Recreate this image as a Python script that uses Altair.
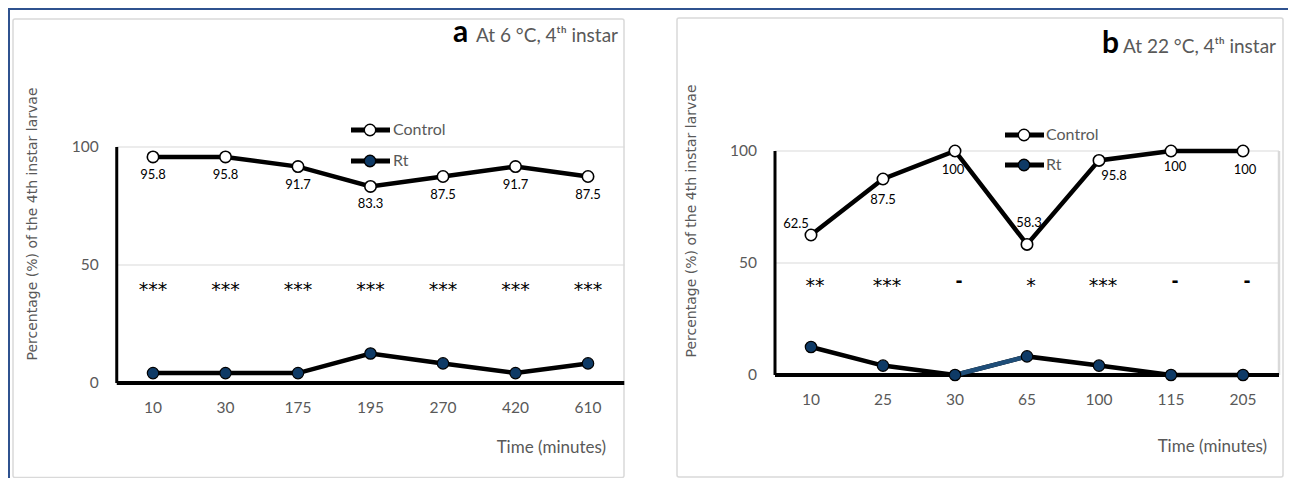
import altair as alt
import pandas as pd

# ---------------- data ----------------
a_times = ["10", "30", "175", "195", "270", "420", "610"]
a_control = [95.8, 95.8, 91.7, 83.3, 87.5, 91.7, 87.5]
a_rt = [4.2, 4.2, 4.2, 12.5, 8.3, 4.2, 8.3]
a_sig = ["***", "***", "***", "***", "***", "***", "***"]

b_times = ["10", "25", "30", "65", "100", "115", "205"]
b_control = [62.5, 87.5, 100, 58.3, 95.8, 100, 100]
b_rt = [12.5, 4.2, 0, 8.3, 4.2, 0, 0]
b_sig = ["**", "***", "-", "*", "***", "-", "-"]

y_ticks = [0, 50, 100]
grid_vals = [50, 100]
sig_level = 37

series_names = ["Control", "Rt"]
y_title = "Percentage (%) of the 4th instar larvae"
x_title = "Time (minutes)"

FONT = "Lato"
GRAY = "#595959"
NAVY = "#0e3a66"
LINE_W = 4.5

W, H = 1280, 470


def panel(times, control, rt, sig, xdom, ydom, lab_off, sig_dx, blue_seg=None, right_edge=False):
    n = len(times)
    df = pd.DataFrame({
        "i": list(range(n)),
        "time": times,
        "control": control,
        "rt": rt,
        "lab": [f"{v:g}" for v in control],
        "sig": sig,
        "sigv": [sig_level] * n,
        "zero": [0] * n,
    })
    xs = alt.Scale(domain=xdom, nice=False, zero=False)
    ys = alt.Scale(domain=ydom, nice=False, zero=False)
    X = lambda f: alt.X(f, type="quantitative", scale=xs, axis=None)
    Y = lambda f: alt.Y(f, type="quantitative", scale=ys, axis=None)
    lo, hi = -0.5, n - 0.5

    grid_df = pd.DataFrame({"v": grid_vals, "x0": [lo] * len(grid_vals), "x1": [hi] * len(grid_vals)})
    grid = alt.Chart(grid_df).mark_rule(color="#d9d9d9", strokeWidth=1.2).encode(
        x=X("x0"), x2="x1", y=Y("v"))

    tick_df = pd.DataFrame({"v": y_ticks, "x0": [lo] * len(y_ticks), "lab": [str(t) for t in y_ticks]})
    ylabels = alt.Chart(tick_df).mark_text(
        align="right", baseline="middle", dx=-18, font=FONT, fontSize=15.5, color=GRAY
    ).encode(x=X("x0"), y=Y("v"), text="lab")

    ax_df = pd.DataFrame({"x0": [lo], "x1": [hi], "y0": [0], "y1": [100]})
    yaxis = alt.Chart(ax_df).mark_rule(color="black", strokeWidth=3).encode(
        x=X("x0"), y=Y("y0"), y2="y1")
    xaxis = alt.Chart(ax_df).mark_rule(color="black", strokeWidth=4).encode(
        x=X("x0"), x2="x1", y=Y("y0"))

    xlabels = alt.Chart(df).mark_text(
        align="center", baseline="middle", dy=25, font=FONT, fontSize=15.5, color=GRAY
    ).encode(x=X("i"), y=Y("zero"), text="time")

    layers = [grid, ylabels, xlabels]
    if right_edge:
        layers.append(alt.Chart(ax_df).mark_rule(color="#d9d9d9", strokeWidth=2.5).encode(
            x=X("x1"), y=Y("y0"), y2="y1"))
    layers += [yaxis, xaxis]

    base = alt.Chart(df)
    layers.append(base.mark_line(color="black", strokeWidth=LINE_W).encode(x=X("i"), y=Y("control"), order="i"))
    layers.append(base.mark_line(color="black", strokeWidth=LINE_W).encode(x=X("i"), y=Y("rt"), order="i"))
    if blue_seg is not None:
        layers.append(base.transform_filter(
            f"datum.i >= {blue_seg[0]} && datum.i <= {blue_seg[1]}"
        ).mark_line(color="#1f4e79", strokeWidth=LINE_W).encode(x=X("i"), y=Y("rt"), order="i"))
    layers.append(base.mark_circle(size=130, fill="white", stroke="black", strokeWidth=1.6, opacity=1).encode(
        x=X("i"), y=Y("control")))
    layers.append(base.mark_circle(size=130, fill=NAVY, stroke="black", strokeWidth=1.2, opacity=1).encode(
        x=X("i"), y=Y("rt")))

    for k in range(n):
        dx, dy = lab_off[k]
        layers.append(base.transform_filter(f"datum.i == {k}").mark_text(
            align="center", baseline="middle", dx=dx, dy=dy, font=FONT, fontSize=13, color="black"
        ).encode(x=X("i"), y=Y("control"), text="lab"))

    layers.append(base.transform_filter("datum.sig != '-'").mark_text(
        align="center", baseline="alphabetic", dx=sig_dx, font="DejaVu Sans", fontSize=19, color="black"
    ).encode(x=X("i"), y=Y("sigv"), text="sig"))
    layers.append(base.transform_filter("datum.sig == '-'").mark_text(
        align="center", baseline="alphabetic", dx=sig_dx, dy=-5, font="DejaVu Sans", fontSize=17,
        fontWeight="bold", color="black"
    ).encode(x=X("i"), y=Y("sigv"), text="sig"))

    return alt.layer(*layers)


# panel a scale: chart x = 145 + 72.5*i ; chart y = 375 - 2.36*v
xa = [(0 - 145) / 72.5, (W - 145) / 72.5]
ya = [(375 - H) / 2.36, 375 / 2.36]
# panel b scale: chart x = 803 + 72*i ; chart y = 367 - 2.24*v
xb = [(0 - 803) / 72, (W - 803) / 72]
yb = [(367 - H) / 2.24, 367 / 2.24]

a_off = [(0, 18)] * 7
b_off = [(-15, -11), (0, 21), (-2, 19), (2, -21), (15, 16), (4, 16), (2, 19)]

pa = panel(a_times, a_control, a_rt, a_sig, xa, ya, a_off, 0)
pb = panel(b_times, b_control, b_rt, b_sig, xb, yb, b_off, 4, blue_seg=(2, 3), right_edge=True)

# ---------------- decorations (pixel-positioned) ----------------
one = alt.Data(values=[{"k": 1}])


def txt(s, x, y, size, color=GRAY, font=FONT, weight="normal", align="left", baseline="middle", angle=0):
    return alt.Chart(one).mark_text(
        text=s, font=font, fontSize=size, color=color, fontWeight=weight, align=align,
        baseline=baseline, angle=angle
    ).encode(x=alt.value(x), y=alt.value(y))


def box(x0, x1, y0, y1):
    return alt.Chart(one).mark_rect(
        fill="white", fillOpacity=0, stroke="#d9d9d9", strokeWidth=1.5, cornerRadius=2
    ).encode(x=alt.value(x0), x2=alt.value(x1), y=alt.value(y0), y2=alt.value(y1))


def legend(x0, x1, xm, xt, y_c, y_r):
    out = []
    for yy, fill, name in [(y_c, "white", series_names[0]), (y_r, NAVY, series_names[1])]:
        out.append(alt.Chart(one).mark_rule(color="black", strokeWidth=5).encode(
            x=alt.value(x0), x2=alt.value(x1), y=alt.value(yy)))
        out.append(alt.Chart(one).mark_circle(size=130, fill=fill, stroke="black", strokeWidth=1.4, opacity=1).encode(
            x=alt.value(xm), y=alt.value(yy)))
        out.append(txt(name, xt, yy, 16))
    return out


deco = [
    alt.Chart(one).mark_rule(color="#2f528f", strokeWidth=2).encode(
        x=alt.value(0), x2=alt.value(W), y=alt.value(1)),
    alt.Chart(one).mark_rule(color="#2f528f", strokeWidth=2).encode(
        x=alt.value(1), y=alt.value(0), y2=alt.value(H)),
    box(5, 616, 11, 469.5),
    box(669, 1275, 10, 469),
    txt("a", 445, 34, 30, color="black", weight="bold", baseline="alphabetic"),
    txt("At 6  °C, 4ᵗʰ instar", 468, 34, 19, baseline="alphabetic"),
    txt("b", 1094, 45, 30, color="black", weight="bold", baseline="alphabetic"),
    txt("At 22  °C, 4ᵗʰ instar", 1115, 45, 19, baseline="alphabetic"),
    txt(y_title, 25, 216, 14, font="DejaVu Sans", align="center", angle=270),
    txt(y_title, 684, 213, 14, font="DejaVu Sans", align="center", angle=270),
    txt(x_title, 598, 440, 17, align="right"),
    txt(x_title, 1259, 439, 17, align="right"),
]
deco += legend(343, 382, 362, 385, 122, 153)
deco += legend(997, 1036, 1016, 1038, 127, 157)

chart = alt.layer(alt.layer(*deco), pa, pb).resolve_scale(
    x="independent", y="independent"
).properties(
    width=W, height=H, padding=0, autosize=alt.AutoSizeParams(type="none")
).configure_view(stroke=None).configure(background="white")

chart.save("out.html", embed_options={"renderer": "svg", "actions": False})
